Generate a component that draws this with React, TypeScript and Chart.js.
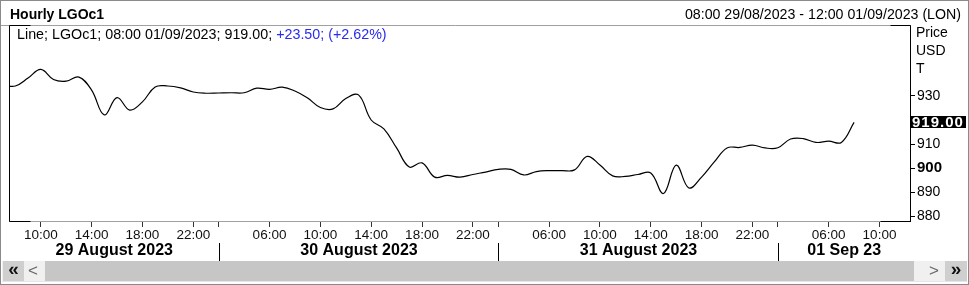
import React, { useEffect, useRef } from "react";
import { Chart, registerables } from "chart.js";

Chart.register(...registerables);

const W = 969;
const H = 285;
const FONT = "'Liberation Sans', Arial, sans-serif";

const title = "Hourly LGOc1";
const rangeText = "08:00 29/08/2023 - 12:00 01/09/2023 (LON)";
const legendBlack = "Line; LGOc1; 08:00 01/09/2023; 919.00; ";
const legendBlue = "+23.50; (+2.62%)";
const unitLabels = ["Price", "USD", "T"];

// hourly bars (trading hours only); first value is the bar before 08:00 29/08
const firstBarIndex = -1;
const prices = [
  934.5, 934.1, 937.4, 941.0, 936.8, 936.1, 937.8, 932.4, 922.1, 929.3, 924.1, 927.5,
  933.7, 934.1, 933.3, 931.6, 931.1, 931.2, 931.3, 931.3, 933.2, 932.7, 933.6, 932.0,
  929.1, 925.2, 924.6, 928.9, 930.4, 920.0, 916.3, 908.4, 900.5, 902.2, 896.3, 897.0,
  896.3, 897.4, 898.4, 899.5, 899.5, 897.2, 898.6, 899.0, 899.0, 899.3, 904.9, 901.3,
  896.8, 896.6, 897.4, 898.0, 889.5, 901.3, 891.8, 896.3, 902.6, 908.4, 908.6, 909.6,
  908.4, 908.5, 912.1, 912.3, 910.7, 911.2, 910.7, 919.0,
];
const lastPrice = 919.0;
const lastPriceLabel = "919.00";

const xTickIdx = [2, 6, 10, 14, 16, 20, 24, 28, 32, 36, 38, 42, 46, 50, 54, 58, 60, 64, 68];
const xTickLabels = [
  "10:00", "14:00", "18:00", "22:00", "",
  "06:00", "10:00", "14:00", "18:00", "22:00", "",
  "06:00", "10:00", "14:00", "18:00", "22:00", "",
  "06:00", "10:00",
];
const dayBoundaryIdx = [16, 38, 60];
const dayLabels = ["29 August 2023", "30 August 2023", "31 August 2023", "01 Sep 23"];

const yTicks = [880, 890, 900, 910, 930];
const yMin = 878.1;
const yMax = 959.4;
const xMin = -0.5;
const xMax = 70.4;

const overlay = {
  id: "overlay",
  afterDraw(chart: any) {
    const { ctx, chartArea: a, scales } = chart;
    const xs = scales.x;
    const ys = scales.y;
    ctx.save();

    // outer frame
    ctx.strokeStyle = "#8a8a8a";
    ctx.lineWidth = 1;
    ctx.strokeRect(0.5, 0.5, W - 1, H - 1);

    // title row
    ctx.fillStyle = "#000";
    ctx.textBaseline = "middle";
    ctx.textAlign = "left";
    ctx.font = `bold 14px ${FONT}`;
    ctx.fillText(title, 10, 15);
    ctx.font = `14.2px ${FONT}`;
    ctx.textAlign = "right";
    ctx.fillText(rangeText, 961, 15);

    // plot frame
    const top = Math.round(a.top) + 0.5;
    const bot = Math.round(a.bottom) + 0.5;
    const left = Math.round(a.left) + 0.5;
    const right = Math.round(a.right) + 0.5;
    ctx.strokeStyle = "#a0a0a0";
    ctx.beginPath();
    ctx.moveTo(1, top);
    ctx.lineTo(right, top);
    ctx.stroke();
    ctx.strokeStyle = "#000";
    ctx.beginPath();
    ctx.moveTo(left, top);
    ctx.lineTo(left + 21, top);
    ctx.moveTo(right - 20, top);
    ctx.lineTo(right, top);
    ctx.moveTo(left, top);
    ctx.lineTo(left, bot);
    ctx.lineTo(left + 21, bot);
    ctx.moveTo(right - 30, bot);
    ctx.lineTo(right, bot);
    ctx.stroke();

    // legend
    ctx.textAlign = "left";
    ctx.font = `14.3px ${FONT}`;
    ctx.fillStyle = "#000";
    ctx.fillText(legendBlack, 17, 35);
    const w = ctx.measureText(legendBlack).width;
    ctx.fillStyle = "#2a2af0";
    ctx.fillText(legendBlue, 17 + w, 35);

    // unit labels
    ctx.font = `14px ${FONT}`;
    ctx.fillStyle = "#000";
    unitLabels.forEach((t, i) => ctx.fillText(t, 916, 33 + i * 18));

    // last price marker
    const yp = ys.getPixelForValue(lastPrice);
    ctx.fillStyle = "#000";
    ctx.fillRect(Math.round(a.right), Math.round(yp) - 6, 56, 12);
    ctx.fillStyle = "#fff";
    ctx.font = `bold 15px ${FONT}`;
    (ctx as any).letterSpacing = "1px";
    ctx.fillText(lastPriceLabel, Math.round(a.right) + 2, Math.round(yp) + 0.5);
    (ctx as any).letterSpacing = "0px";

    // date row
    const seps = dayBoundaryIdx.map((i) => Math.round(xs.getPixelForValue(i)) + 0.5);
    ctx.strokeStyle = "#000";
    ctx.beginPath();
    seps.forEach((x) => {
      ctx.moveTo(x, 243);
      ctx.lineTo(x, 261);
    });
    ctx.stroke();
    const bounds = [a.left, ...seps, a.right];
    ctx.fillStyle = "#000";
    ctx.font = `bold 16px ${FONT}`;
    ctx.textAlign = "center";
    dayLabels.forEach((d, i) => {
      ctx.fillText(d, (bounds[i] + bounds[i + 1]) / 2, 251);
    });

    // scrollbar
    ctx.fillStyle = "#f0f0f0";
    ctx.fillRect(2, 261, W - 4, 20);
    ctx.fillStyle = "#cfcfcf";
    ctx.fillRect(3, 261, 21, 20);
    ctx.fillRect(945, 261, 22, 20);
    ctx.fillStyle = "#c6c6c6";
    ctx.fillRect(45, 261, 869, 20);
    ctx.fillStyle = "#e6e6e6";
    ctx.fillRect(2, 281, W - 4, 1);
    ctx.textAlign = "center";
    ctx.font = `bold 19px ${FONT}`;
    ctx.fillStyle = "#111";
    ctx.fillText("\u00AB", 13.5, 270);
    ctx.fillText("\u00BB", 956, 270);
    ctx.font = `17px ${FONT}`;
    ctx.fillStyle = "#666";
    ctx.fillText("<", 33, 271);
    ctx.fillText(">", 934, 271);

    ctx.restore();
  },
};

export default function App() {
  const ref = useRef<HTMLCanvasElement | null>(null);

  useEffect(() => {
    if (!ref.current) return;
    const data = prices.map((p, i) => ({ x: firstBarIndex + i, y: p }));
    const chart = new Chart(ref.current, {
      type: "line",
      data: {
        datasets: [
          {
            data,
            borderColor: "#000",
            borderWidth: 1.2,
            pointRadius: 0,
            tension: 0.4,
            fill: false,
          },
        ],
      },
      options: {
        responsive: false,
        animation: false,
        devicePixelRatio: 1,
        events: [],
        layout: { padding: { left: 9, top: 25, right: 0, bottom: 0 } },
        plugins: { legend: { display: false }, tooltip: { enabled: false } },
        scales: {
          x: {
            type: "linear",
            position: "bottom",
            min: xMin,
            max: xMax,
            afterBuildTicks: (s: any) => {
              s.ticks = xTickIdx.map((v) => ({ value: v }));
            },
            afterFit: (s: any) => {
              s.height = 64;
            },
            ticks: {
              autoSkip: false,
              maxRotation: 0,
              minRotation: 0,
              padding: 0,
              color: "#111",
              font: { family: FONT, size: 13.5 },
              callback: (v: any) => {
                const k = xTickIdx.indexOf(Number(v));
                return k >= 0 ? xTickLabels[k] : "";
              },
            },
            grid: {
              drawOnChartArea: false,
              drawTicks: true,
              tickLength: 6,
              color: "#333",
            },
            border: { display: true, color: "#a0a0a0" },
          },
          y: {
            type: "linear",
            position: "right",
            min: yMin,
            max: yMax,
            afterBuildTicks: (s: any) => {
              s.ticks = yTicks.map((v) => ({ value: v }));
            },
            afterFit: (s: any) => {
              s.width = 59;
            },
            ticks: {
              padding: 2,
              color: "#000",
              font: (c: any) =>
                c.tick && c.tick.value === 900
                  ? { family: FONT, size: 15, weight: "bold" }
                  : { family: FONT, size: 14 },
              callback: (v: any) => String(v),
            },
            grid: {
              drawOnChartArea: false,
              drawTicks: true,
              tickLength: 5,
              color: "#000",
            },
            border: { display: true, color: "#000" },
          },
        },
      },
      plugins: [overlay],
    });
    return () => chart.destroy();
  }, []);

  return (
    <div style={{ position: "fixed", left: 0, top: 0, width: W, height: H, background: "#fff" }}>
      <canvas ref={ref} width={W} height={H} style={{ display: "block", width: W, height: H }} />
    </div>
  );
}
